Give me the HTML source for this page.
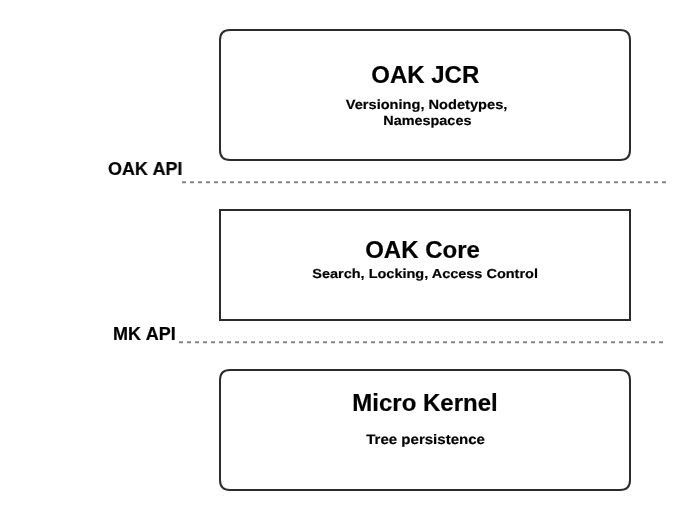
<!DOCTYPE html>
<html>
<head>
<meta charset="utf-8">
<title>OAK architecture</title>
<style>
html,body{margin:0;padding:0;background:#fff;}
body{width:690px;height:510px;overflow:hidden;position:relative;font-family:"Liberation Sans",Arial,Helvetica,sans-serif;color:#000;}
svg{position:absolute;left:0;top:0;}
.box{fill:#fff;stroke:#2b2b2b;stroke-width:2;}
.dash{stroke:#868686;stroke-width:2;stroke-dasharray:4 4;fill:none;}
.t{position:absolute;will-change:transform;white-space:nowrap;font-weight:bold;text-align:center;width:410px;}
.h{font-size:24px;height:27px;line-height:27px;-webkit-text-stroke:0.2px #000;transform-origin:50% 22px;}
.s{font-size:13.4px;height:16px;line-height:16px;text-rendering:geometricPrecision;-webkit-text-stroke:0.18px #000;transform-origin:50% 13px;}
.l{font-size:18px;height:20px;line-height:20px;-webkit-text-stroke:0.2px #000;text-align:left;width:auto;word-spacing:0.5px;transform-origin:0 16px;}
</style>
</head>
<body>
<svg width="690" height="510" viewBox="0 0 690 510">
  <path class="box" d="M230 30H620Q630 30 630 40V150Q630 160 620 160H230Q220 160 220 150V40Q220 30 230 30Z"/>
  <rect class="box" x="220" y="210" width="410" height="110"/>
  <path class="box" d="M230 370H620Q630 370 630 380V480Q630 490 620 490H230Q220 490 220 480V380Q220 370 230 370Z"/>
  <line class="dash" x1="182" y1="182.2" x2="666" y2="182.2"/>
  <line class="dash" x1="179" y1="342.2" x2="665" y2="342.2"/>
</svg>
<div class="t h" id="h1" style="top:61px;left:220px;transform:translate(0.25px,0.0px);">OAK JCR</div>
<div class="t s" id="s1a" style="top:97px;left:222px;transform:translate(-0.45px,0px) scale(1.091,1.0);">Versioning, Nodetypes,</div>
<div class="t s" id="s1b" style="top:113px;left:222px;transform:translate(0.35px,0px) scale(1.077,1.0);">Namespaces</div>
<div class="t l" id="l1" style="top:159px;left:108px;transform:scale(0.995,1.0);">OAK API</div>
<div class="t h" id="h2" style="top:236px;left:218px;transform:translate(-0.5px,0.0px);">OAK Core</div>
<div class="t s" id="s2" style="top:266px;left:220px;font-size:13px;transform:translate(0.1px,0px) scale(1.114,1.0);">Search, Locking, Access Control</div>
<div class="t l" id="l2" style="top:324px;left:113px;transform:scale(0.995,1.0);">MK API</div>
<div class="t h" id="h3" style="top:389px;left:220px;">Micro Kernel</div>
<div class="t s" id="s3" style="top:432px;left:220px;font-size:13.8px;transform:translate(0.6px,0px) scale(1.09,1.0);">Tree persistence</div>
</body>
</html>
